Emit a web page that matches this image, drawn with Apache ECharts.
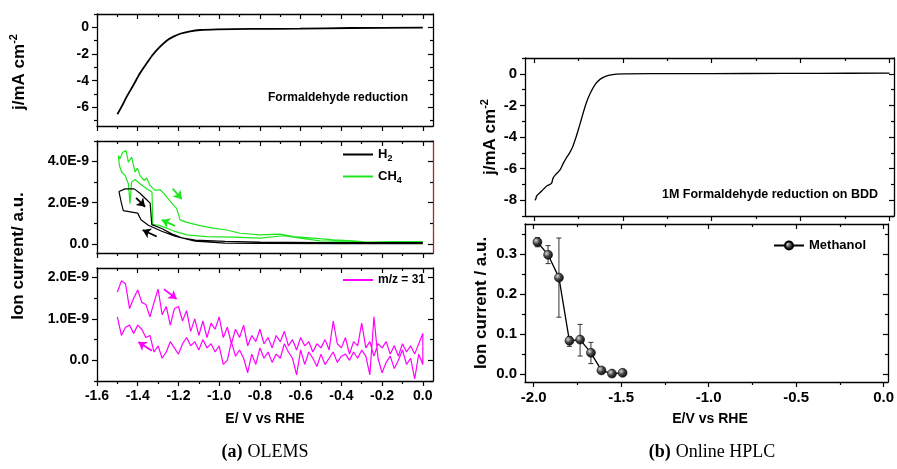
<!DOCTYPE html>
<html><head><meta charset="utf-8">
<script src="https://cdn.jsdelivr.net/npm/echarts@6/dist/echarts.min.js"></script>
<style>html,body{margin:0;padding:0;background:#fff}#c{width:897px;height:469px}</style>
</head><body><div id="c"></div>
<script>
// ---------- (a) OLEMS : top CV ----------
const cvTopE = [-1.5, -1.479, -1.454, -1.421, -1.389, -1.356, -1.323, -1.290, -1.258, -1.225, -1.192, -1.143, -1.094, -1.012, -0.848, -0.603, -0.357, 0.0];
const cvTopJ = [-6.52, -5.95, -5.2, -4.33, -3.45, -2.70, -2.0, -1.45, -1.0, -0.70, -0.48, -0.30, -0.20, -0.15, -0.12, -0.10, -0.05, -0.02];

// ---------- (a) OLEMS : H2 / CH4 ion currents (units of 1E-9) ----------
const h2E = [0.0, -0.4, -0.8, -0.971, -1.118, -1.217, -1.282, -1.348, -1.384, -1.400, -1.429, -1.471, -1.482, -1.492,
             -1.492, -1.462, -1.417, -1.389, -1.356, -1.339, -1.331, -1.282, -1.233, -1.184, -1.118, -0.971, -0.8, -0.5, -0.2, 0.0];
const h2I = [0.01, 0.01, 0.02, 0.03, 0.13, 0.37, 0.61, 0.90, 1.17, 1.49, 1.54, 1.61, 2.06, 2.54,
             2.59, 2.67, 2.67, 2.46, 2.14, 1.98, 0.93, 0.74, 0.48, 0.29, 0.18, 0.12, 0.08, 0.06, 0.05, 0.05];
const ch4E = [0.0, -0.144, -0.275, -0.341, -0.504, -0.603, -0.685, -0.799, -0.930, -1.061, -1.159, -1.225, -1.290, -1.326, -1.330, -1.336, -1.356, -1.389, -1.413, -1.430, -1.438, -1.446, -1.462, -1.479, -1.490,
              -1.495, -1.487, -1.474, -1.457, -1.446, -1.430, -1.413, -1.402, -1.389, -1.369, -1.356, -1.340, -1.315, -1.290, -1.271, -1.258, -1.225, -1.209, -1.192, -1.159, -1.094, -1.028, -0.963, -0.897, -0.799, -0.701, -0.635, -0.537, -0.439, -0.341, -0.275, -0.144, 0.0];
const ch4I = [0.08, 0.08, 0.05, 0.11, 0.14, 0.27, 0.39, 0.27, 0.32, 0.35, 0.43, 0.63, 0.88, 0.95, 2.52, 2.60, 2.68, 2.92, 3.13, 3.00, 1.95, 2.92, 3.33, 3.49, 3.81,
              4.29, 4.13, 4.45, 4.53, 3.97, 4.21, 3.49, 3.68, 3.33, 3.08, 3.20, 2.84, 2.60, 2.63, 2.44, 2.28, 1.88, 1.72, 1.16, 1.04, 0.88, 0.76, 0.67, 0.51, 0.43, 0.47, 0.35, 0.27, 0.19, 0.14, 0.08, 0.11, 0.11];

// ---------- (a) OLEMS : m/z = 31 (units of 1E-9) ----------
const mzE = [-1.50, -1.48, -1.46, -1.44, -1.42, -1.40, -1.38, -1.36, -1.34, -1.32, -1.30, -1.28, -1.26, -1.24, -1.22, -1.20, -1.18, -1.16, -1.14, -1.12,
             -1.10, -1.08, -1.06, -1.04, -1.02, -1.00, -0.98, -0.96, -0.94, -0.92, -0.90, -0.88, -0.86, -0.84, -0.82, -0.80, -0.78, -0.76, -0.74, -0.72,
             -0.70, -0.68, -0.66, -0.64, -0.62, -0.60, -0.58, -0.56, -0.54, -0.52, -0.50, -0.48, -0.46, -0.44, -0.42, -0.40, -0.38, -0.36, -0.34, -0.32,
             -0.30, -0.28, -0.26, -0.24, -0.22, -0.20, -0.18, -0.16, -0.14, -0.12, -0.10, -0.08, -0.06, -0.04, -0.02, 0.00];
// forward sweep (upper trace), listed from -1.50 to 0.00
const mzForward = [1.65, 1.92, 1.85, 1.25, 1.50, 1.70, 1.40, 1.35, 1.05, 1.40, 1.72, 1.10, 1.30, 0.85, 1.25, 1.30, 0.95, 1.20, 0.70, 1.00,
                   0.60, 0.95, 0.55, 0.90, 0.75, 1.05, 0.55, 0.80, 0.40, 0.75, 0.55, 0.85, 0.35, 0.60, 0.45, 0.75, 0.40, 0.55, 0.30, 0.60,
                   0.45, 0.70, 0.35, 0.50, 0.25, 0.55, 0.35, 0.45, 0.20, 0.40, 0.30, 0.50, 0.25, 0.95, 0.40, 0.30, 0.55, 0.15, 0.45, 0.35,
                   0.90, 0.30, 0.45, 0.10, 0.40, 0.30, 0.45, 0.15, 0.35, 0.10, 0.40, 0.20, 0.35, 0.15, 0.40, 0.65];
// return sweep (lower trace), listed from -1.50 to 0.00 (drawn from 0.00 back to -1.50)
const mzReverse = [1.05, 0.60, 0.80, 0.85, 0.65, 0.85, 0.75, 0.55, 0.60, 0.20, 0.35, 0.05, 0.20, 0.45, 0.30, 0.15, 0.40, 0.55, 0.35, 0.45,
                   0.25, 0.50, 0.30, 0.40, 0.20, 0.35, -0.10, 0.00, 0.45, 0.10, 0.25, 0.05, -0.30, 0.15, -0.10, 0.30, 0.05, 0.20, -0.05, 0.15,
                   0.05, 0.40, 0.20, 0.05, -0.35, 0.25, -0.10, 0.20, 0.05, -0.15, 0.15, -0.10, 0.05, 0.20, -0.05, 0.10, 0.15, 0.00, 0.20, 0.05,
                   0.25, 0.10, -0.35, 1.05, 0.05, -0.30, -0.05, 0.10, -0.20, 0.00, 0.25, -0.10, 0.05, -0.45, 0.15, -0.10];

// ---------- (b) Online HPLC : CV ----------
const hplcCvE = [-1.995, -1.990, -1.984, -1.965, -1.946, -1.926, -1.901, -1.893, -1.877, -1.854, -1.835, -1.819, -1.804, -1.784, -1.765, -1.745, -1.726, -1.706, -1.683, -1.654, -1.625, -1.586, -1.537, -1.488, -1.2, -0.8, -0.4, 0.0];
const hplcCvJ = [-8.0, -7.94, -7.72, -7.51, -7.30, -7.09, -6.94, -6.62, -6.37, -6.10, -5.67, -5.35, -5.10, -4.68, -4.08, -3.34, -2.60, -1.86, -1.23, -0.66, -0.32, -0.11, -0.02, 0.0, 0.01, 0.02, 0.03, 0.04];

// ---------- (b) Online HPLC : Methanol ----------
const methanolE = [-1.979, -1.918, -1.856, -1.796, -1.735, -1.673, -1.613, -1.553, -1.492];
const methanolI = [0.330, 0.298, 0.241, 0.083, 0.086, 0.053, 0.009, 0.001, 0.003];
const methanolErrLow  = [0.318, 0.276, 0.142, 0.069, 0.045, 0.026, 0.005, 0.000, 0.000];
const methanolErrHigh = [0.341, 0.321, 0.340, 0.094, 0.124, 0.079, 0.013, 0.002, 0.006];

// ---------- arrows (annotation, data coordinates) ----------
const h2Arrows  = [[[-1.408, 2.23], [-1.364, 1.80]], [[-1.307, 0.35], [-1.376, 0.67]]];
const ch4Arrows = [[[-1.228, 2.68], [-1.184, 2.17]], [[-1.217, 0.87], [-1.282, 1.16]]];
const mzArrows  = [[[-1.271, 1.72], [-1.209, 1.48]], [[-1.331, 0.23], [-1.397, 0.44]]];

// ---------- ticks ----------
const leftXTicks = [-1.6, -1.4, -1.2, -1.0, -0.8, -0.6, -0.4, -0.2, 0.0];
const leftXMinor = [-1.5, -1.3, -1.1, -0.9, -0.7, -0.5, -0.3, -0.1];
const cvTopYTicks = [-6, -4, -2, 0];
const cvTopYMinor = [-7, -5, -3, -1, 1];
const gasYTicks = [0, 2, 4];
const gasYMinor = [1, 3, 5];
const mzYTicks = [0, 1, 2];
const mzYMinor = [-0.5, 0.5, 1.5];
const rightXTicks = [-2.0, -1.5, -1.0, -0.5, 0.0];
const rightXMinor = [-1.75, -1.25, -0.75, -0.25];
const hplcYTicks = [-8, -6, -4, -2, 0];
const hplcYMinor = [-9, -7, -5, -3, -1, 1];
const methanolYTicks = [0.0, 0.1, 0.2, 0.3];
const methanolYMinor = [0.05, 0.15, 0.25, 0.35];

// ===================================================
const FONT = '"Liberation Sans", Arial, sans-serif';
const chart = echarts.init(document.getElementById('c'), null, {renderer: 'canvas'});
const pairs = (xs, ys) => xs.map((x, i) => [x, ys[i]]);

const grids = [
  {left: 97, top: 14, width: 336, height: 112},
  {left: 97, top: 141, width: 336, height: 112},
  {left: 97, top: 268, width: 336, height: 113},
  {left: 525, top: 58, width: 369, height: 158},
  {left: 525, top: 224, width: 369, height: 158}
];
const lineSt = {color: '#000', width: 1.3};
const tickSt = {color: '#000', width: 1.2};

function makeX(gi, min, max, majors, minors, showLabels, fmt, fs) {
  const base = {type: 'value', gridIndex: gi, min, max, splitLine: {show: false}, axisLabel: {show: false}, axisLine: {show: false, onZero: false}, axisTick: {show: false}};
  return [
    Object.assign({}, base, {position: 'bottom', axisLine: {show: true, onZero: false, lineStyle: lineSt},
      axisTick: {show: true, customValues: majors, length: 5, lineStyle: tickSt},
      axisLabel: {show: showLabels, customValues: majors, formatter: fmt, fontSize: fs, fontWeight: 'bold', color: '#000', fontFamily: FONT, margin: 8}}),
    Object.assign({}, base, {position: 'bottom', axisTick: {show: true, customValues: minors, length: 3, lineStyle: tickSt}}),
    Object.assign({}, base, {position: 'top', axisLine: {show: true, onZero: false, lineStyle: lineSt},
      axisTick: {show: true, inside: true, customValues: majors, length: 5, lineStyle: tickSt}}),
    Object.assign({}, base, {position: 'top', axisTick: {show: true, inside: true, customValues: minors, length: 3, lineStyle: tickSt}})
  ];
}
function makeY(gi, min, max, majors, minors, fmt, fs, margin, rightColor) {
  const base = {type: 'value', gridIndex: gi, min, max, splitLine: {show: false}, axisLabel: {show: false}, axisLine: {show: false, onZero: false}, axisTick: {show: false}};
  const rc = rightColor || '#000';
  return [
    Object.assign({}, base, {position: 'left', axisLine: {show: true, onZero: false, lineStyle: lineSt},
      axisTick: {show: true, customValues: majors, length: 5, lineStyle: tickSt},
      axisLabel: {show: true, customValues: majors, formatter: fmt, fontSize: fs, fontWeight: 'bold', color: '#000', fontFamily: FONT, margin: margin}}),
    Object.assign({}, base, {position: 'left', axisTick: {show: true, customValues: minors, length: 3, lineStyle: tickSt}}),
    Object.assign({}, base, {position: 'right', axisLine: {show: true, onZero: false, lineStyle: {color: rc, width: 1.3}},
      axisTick: {show: true, inside: true, customValues: majors, length: 5, lineStyle: tickSt}}),
    Object.assign({}, base, {position: 'right', axisTick: {show: true, inside: true, customValues: minors, length: 3, lineStyle: tickSt}})
  ];
}
const f1 = v => v.toFixed(1);
const fInt = v => String(Math.round(v));
const fE9 = v => (Math.abs(v) < 1e-9 ? '0.0' : v.toFixed(1) + 'E-9');

const xAxis = [].concat(
  makeX(0, -1.6, 0.05, leftXTicks, leftXMinor, false, f1, 14),
  makeX(1, -1.6, 0.05, leftXTicks, leftXMinor, false, f1, 14),
  makeX(2, -1.6, 0.05, leftXTicks, leftXMinor, true, f1, 14),
  makeX(3, -2.05, 0.025, rightXTicks, rightXMinor, false, f1, 15),
  makeX(4, -2.05, 0.025, rightXTicks, rightXMinor, true, f1, 15)
);
const yAxis = [].concat(
  makeY(0, -7.4, 1, cvTopYTicks, cvTopYMinor, fInt, 14, 8),
  makeY(1, -0.45, 5, gasYTicks, gasYMinor, fE9, 14, 8, '#a52a2a'),
  makeY(2, -0.5, 2.23, mzYTicks, mzYMinor, fE9, 14, 8),
  makeY(3, -9, 1, hplcYTicks, hplcYMinor, fInt, 15, 8),
  makeY(4, -0.02, 0.375, methanolYTicks, methanolYMinor, f1, 15, 8)
);

function arrowMark(arrs, color) {
  return {silent: true, symbol: ['none', 'arrow'], symbolSize: 8, label: {show: false},
    lineStyle: {color: color, width: 1.8, type: 'solid'},
    emphasis: {disabled: true},
    data: arrs.map(a => [{coord: a[0]}, {coord: a[1]}])};
}

// path: forward sweep -1.5 -> 0, then return sweep 0 -> -1.5
const mzPath = pairs(mzE, mzForward).concat(pairs(mzE, mzReverse).reverse());

const ballColor = new echarts.graphic.RadialGradient(0.35, 0.35, 0.75, [
  {offset: 0, color: '#d8d8d8'}, {offset: 0.45, color: '#444'}, {offset: 1, color: '#000'}]);

const series = [
  {name: 'cvA', type: 'line', xAxisIndex: 0, yAxisIndex: 0, data: pairs(cvTopE, cvTopJ), symbol: 'none', smooth: 0.3,
   lineStyle: {color: '#000', width: 1.8}},
  {name: 'H2', type: 'line', xAxisIndex: 4, yAxisIndex: 4, data: pairs(h2E, h2I), symbol: 'none',
   lineStyle: {color: '#000', width: 1.2}, itemStyle: {color: '#000'}, markLine: arrowMark(h2Arrows, '#000'), z: 3},
  {name: 'CH4', type: 'line', xAxisIndex: 4, yAxisIndex: 4, data: pairs(ch4E, ch4I), symbol: 'none',
   lineStyle: {color: '#1ee61e', width: 1.2}, itemStyle: {color: '#1ee61e'}, markLine: arrowMark(ch4Arrows, '#1ee61e'), z: 2},
  {name: 'm/z = 31', type: 'line', xAxisIndex: 8, yAxisIndex: 8, data: mzPath, symbol: 'none',
   lineStyle: {color: '#ff00ff', width: 1.2}, itemStyle: {color: '#ff00ff'}, markLine: arrowMark(mzArrows, '#ff00ff')},
  {name: 'cvB', type: 'line', xAxisIndex: 12, yAxisIndex: 12, data: pairs(hplcCvE, hplcCvJ), symbol: 'none', smooth: 0.3,
   lineStyle: {color: '#000', width: 1.3}},
  {name: 'err', type: 'custom', xAxisIndex: 16, yAxisIndex: 16, z: 1,
   data: methanolE.map((x, i) => [x, methanolErrLow[i], methanolErrHigh[i]]),
   encode: {x: 0, y: [1, 2]},
   renderItem: (params, api) => {
     const x = api.value(0), lo = api.value(1), hi = api.value(2);
     const a = api.coord([x, lo]), b = api.coord([x, hi]);
     const w = 2.5, st = {stroke: '#333', lineWidth: 1};
     return {type: 'group', children: [
       {type: 'line', shape: {x1: a[0], y1: a[1], x2: b[0], y2: b[1]}, style: st},
       {type: 'line', shape: {x1: a[0] - w, y1: a[1], x2: a[0] + w, y2: a[1]}, style: st},
       {type: 'line', shape: {x1: b[0] - w, y1: b[1], x2: b[0] + w, y2: b[1]}, style: st}]};
   }},
  {name: 'Methanol', type: 'line', xAxisIndex: 16, yAxisIndex: 16, data: pairs(methanolE, methanolI), z: 3,
   symbol: 'circle', symbolSize: 9, showSymbol: true,
   lineStyle: {color: '#000', width: 1.3}, itemStyle: {color: ballColor, borderColor: '#000', borderWidth: 0.5}}
];

const legTxt = {color: '#000', fontFamily: FONT, fontWeight: 'bold', fontSize: 13,
  rich: {b: {fontSize: 13, fontWeight: 'bold', fontFamily: FONT, color: '#000'},
         s: {fontSize: 9, fontWeight: 'bold', fontFamily: FONT, color: '#000', padding: [8, 0, 0, 0]}}};
const legend = [
  {data: ['H2', 'CH4'], left: 342, top: 148, orient: 'vertical', padding: 0, itemGap: 7, itemWidth: 30, itemHeight: 14,
   selectedMode: false, textStyle: legTxt, itemStyle: {opacity: 0},
   formatter: n => n === 'H2' ? '{b|H}{s|2}' : '{b|CH}{s|4}'},
  {data: ['m/z = 31'], left: 342, top: 274, orient: 'vertical', padding: 0, itemWidth: 30, itemHeight: 14,
   selectedMode: false, itemStyle: {opacity: 0},
   textStyle: {color: '#000', fontFamily: FONT, fontWeight: 'bold', fontSize: 12}},
  {data: ['Methanol'], left: 773, top: 239, orient: 'vertical', padding: 0, itemWidth: 30, itemHeight: 10,
   selectedMode: false, textStyle: {color: '#000', fontFamily: FONT, fontWeight: 'bold', fontSize: 13}}
];

const T = (text, x, y, size, opts) => Object.assign({type: 'text', x: x, y: y, silent: true,
  style: Object.assign({text: text, fill: '#000', font: 'bold ' + size + 'px ' + FONT,
    align: 'center', verticalAlign: 'middle', textAlign: 'center', textVerticalAlign: 'middle'}, opts && opts.style || {})},
  opts && opts.el || {});
const yTitleRich = {
  b: {fontSize: 17, fontWeight: 'bold', fontFamily: FONT, fill: '#000'},
  p: {fontSize: 11, fontWeight: 'bold', fontFamily: FONT, fill: '#000', padding: [0, 0, 10, 0]}
};
const capRich = {
  a: {fontSize: 18, fontWeight: 'bold', fontFamily: '"Liberation Serif", serif', fill: '#000'},
  c: {fontSize: 18, fontFamily: '"Liberation Serif", serif', fill: '#000'}
};
const graphic = [
  T('{b|j/mA cm}{p|-2}', 19, 72, 17, {el: {rotation: Math.PI / 2}, style: {rich: yTitleRich}}),
  T('Ion current/ a.u.', 18, 256, 17, {el: {rotation: Math.PI / 2}}),
  T('{b|j/mA cm}{p|-2}', 490, 137, 17, {el: {rotation: Math.PI / 2}, style: {rich: yTitleRich}}),
  T('Ion current / a.u.', 481, 303, 17, {el: {rotation: Math.PI / 2}}),
  T('Formaldehyde reduction', 408, 98, 12, {style: {align: 'right', textAlign: 'right'}}),
  T('1M Formaldehyde reduction on BDD', 662, 195, 12.5, {style: {align: 'left', textAlign: 'left'}}),
  T('E/ V vs RHE', 265, 419, 14),
  T('E/V vs RHE', 710, 419, 14),
  T('{a|(a)} {c|OLEMS}', 265, 452, 18, {style: {rich: capRich}}),
  T('{a|(b)} {c|Online HPLC}', 712, 452, 18, {style: {rich: capRich}})
];

chart.setOption({
  animation: false,
  backgroundColor: '#fff',
  grid: grids,
  xAxis: xAxis,
  yAxis: yAxis,
  legend: legend,
  series: series,
  graphic: graphic
});
</script></body></html>
